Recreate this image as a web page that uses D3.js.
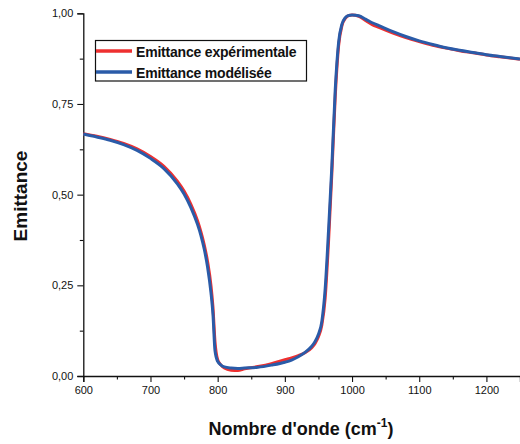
<!DOCTYPE html>
<html>
  <head>
    <meta charset="utf-8">
    <script src="https://d3js.org/d3.v7.min.js"></script>
    <style>
      body { margin: 0; background: white; font-family: "Liberation Sans", Arial, sans-serif; }
      .tick text { font-family: "Liberation Sans", Arial, sans-serif; font-size: 11px; fill: #111; }
    </style>
  </head>
  <body>
    <script>
      // size of the picture
      var width = 520;
      var height = 444;

      // wavenumbers (cm-1)
      var waveNumbers = [600,620,640,660,680,700,720,740,750,760,770,775,780,785,790,793,796,800,805,810,
        820,830,840,860,880,900,910,920,930,940,945,950,955,960,965,970,975,980,985,990,995,1000,
        1010,1020,1030,1040,1060,1080,1100,1120,1140,1160,1180,1200,1220,1250];

      // measured emittance
      var experimental = [0.668,0.661,0.652,0.641,0.626,0.605,0.578,0.537,0.510,0.474,0.428,0.398,0.362,0.315,0.250,0.190,0.095,0.045,0.030,0.022,
        0.016,0.015,0.020,0.026,0.034,0.045,0.050,0.056,0.064,0.078,0.090,0.108,0.140,0.215,0.370,0.560,0.770,0.910,0.966,0.986,0.994,0.995,
        0.992,0.980,0.969,0.961,0.946,0.933,0.922,0.912,0.904,0.897,0.891,0.885,0.880,0.873];

      // model emittance
      var modelled = [0.667,0.659,0.650,0.638,0.622,0.600,0.572,0.530,0.502,0.465,0.418,0.388,0.350,0.300,0.230,0.170,0.070,0.040,0.030,0.025,
        0.022,0.021,0.022,0.024,0.030,0.038,0.044,0.053,0.065,0.082,0.095,0.115,0.150,0.240,0.400,0.580,0.790,0.920,0.970,0.988,0.994,0.995,
        0.993,0.984,0.974,0.966,0.950,0.936,0.924,0.914,0.905,0.898,0.892,0.886,0.881,0.874];

      var xMajor = [600,700,800,900,1000,1100,1200];
      var xMinor = [650,750,850,950,1050,1150,1250];
      var yMajor = [0,0.25,0.5,0.75,1];
      var yMinor = [0.125,0.375,0.625,0.875];

      var legendLabels = ["Emittance expérimentale", "Emittance modélisée"];
      var colors = ["#ee3030", "#2a5ba8"];

      var svg = d3.select("body")
        .append("svg")
        .attr("width", width)
        .attr("height", height);

      var x = d3.scaleLinear().domain([600, 1250]).range([83.3, 520]);
      var y = d3.scaleLinear().domain([0, 1]).range([376, 13.3]);

      var fmt = function(d){ return d3.format(".2f")(d).replace(".", ","); };

      // axes
      var gx = svg.append("g").attr("transform", "translate(0,376)");
      gx.call(d3.axisBottom(x).tickValues(xMajor).tickSize(6).tickPadding(4).tickFormat(d3.format("d")));
      gx.append("g").call(d3.axisBottom(x).tickValues(xMinor).tickSize(3.5).tickFormat(""));
      gx.selectAll("g g .domain").remove();

      var gy = svg.append("g").attr("transform", "translate(83.3,0)");
      gy.call(d3.axisLeft(y).tickValues(yMajor).tickSize(6).tickPadding(4).tickFormat(fmt));
      gy.append("g").call(d3.axisLeft(y).tickValues(yMinor).tickSize(3.5).tickFormat(""));
      gy.selectAll("g g .domain").remove();

      svg.selectAll(".domain").attr("stroke", "#111").attr("stroke-width", 1.3);
      svg.selectAll(".tick line").attr("stroke", "#111").attr("stroke-width", 1.1);

      // curves
      var line = d3.line()
        .x(function(d){ return x(d[0]); })
        .y(function(d){ return y(d[1]); })
        .curve(d3.curveMonotoneX);

      [experimental, modelled].forEach(function(vals, i){
        svg.append("path")
          .datum(d3.zip(waveNumbers, vals))
          .attr("fill", "none")
          .attr("stroke", colors[i])
          .attr("stroke-width", 3)
          .attr("stroke-linejoin", "round")
          .attr("d", line);
      });

      // legend
      var legend = svg.append("g");
      legend.append("rect")
        .attr("x", 95.5).attr("y", 40.5)
        .attr("width", 211).attr("height", 40.5)
        .attr("fill", "white").attr("stroke", "#111").attr("stroke-width", 1.2);
      legendLabels.forEach(function(lab, i){
        var ly = 51 + i * 21;
        legend.append("line")
          .attr("x1", 96).attr("x2", 132)
          .attr("y1", ly).attr("y2", ly)
          .attr("stroke", colors[i]).attr("stroke-width", 3.5);
        legend.append("text")
          .attr("x", 136).attr("y", ly + 5.5)
          .attr("font-size", 14).attr("font-weight", "bold")
          .attr("letter-spacing", -0.2)
          .attr("fill", "#111")
          .text(lab);
      });

      // axis titles
      var xt = svg.append("text")
        .attr("x", 301).attr("y", 435)
        .attr("text-anchor", "middle")
        .attr("font-size", 18).attr("font-weight", "bold")
        .attr("fill", "#111");
      xt.append("tspan").text("Nombre d'onde (cm");
      xt.append("tspan").attr("font-size", 12).attr("dy", -8).text("-1");
      xt.append("tspan").attr("dy", 8).text(")");

      svg.append("text")
        .attr("transform", "translate(27,196) rotate(-90)")
        .attr("text-anchor", "middle")
        .attr("font-size", 19).attr("font-weight", "bold")
        .attr("fill", "#111")
        .text("Emittance");
    </script>
  </body>
</html>
